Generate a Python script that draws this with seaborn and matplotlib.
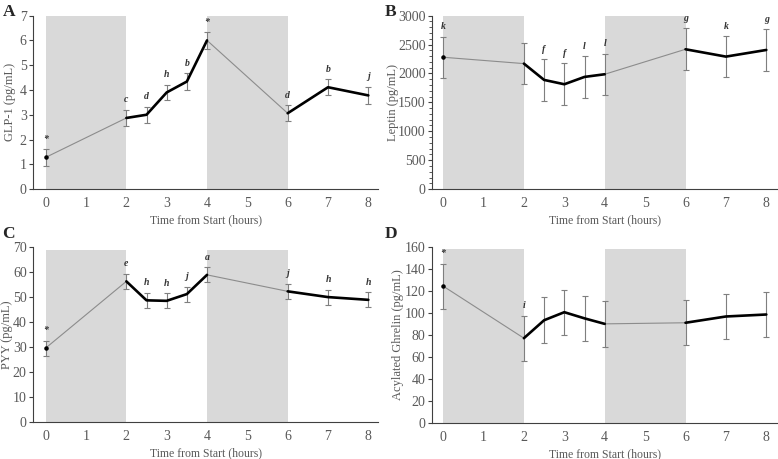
import matplotlib
matplotlib.use("Agg")
import matplotlib.pyplot as plt
import seaborn as sns
import pandas as pd
import numpy as np
from matplotlib.ticker import MultipleLocator

sns.set_theme(style="white")
plt.rcParams['font.family'] = ['Liberation Serif', 'DejaVu Serif']

# ---- data ----
hours = [0, 2, 2.5, 3, 3.5, 4, 6, 7, 8]

glp1 = [1.28, 2.87, 3.0, 3.9, 4.34, 6.0, 3.06, 4.11, 3.78]
glp1_err = [0.33, 0.33, 0.32, 0.3, 0.33, 0.33, 0.33, 0.32, 0.34]
glp1_lab = ['*', 'c', 'd', 'h', 'b', '*', 'd', 'b', 'j']

leptin = [2280, 2170, 1888, 1813, 1940, 1986, 2418, 2291, 2406]
leptin_err = [355, 360, 360, 360, 360, 355, 360, 355, 360]
leptin_lab = ['k', '', 'f', 'f', 'l', 'l', 'g', 'k', 'g']

pyy = [29.6, 56.3, 48.7, 48.5, 51.2, 58.9, 52.3, 50.0, 48.9]
pyy_err = [3.0, 3.0, 3.0, 3.0, 3.0, 3.0, 3.0, 3.0, 3.0]
pyy_lab = ['*', 'e', 'h', 'h', 'j', 'a', 'j', 'h', 'h']

ghrelin = [124.3, 77.0, 93.3, 100.6, 95.0, 90.0, 91.0, 96.7, 98.5]
ghrelin_err = [20.5, 20.3, 20.7, 20.4, 20.3, 20.7, 20.5, 20.5, 20.6]
ghrelin_lab = ['*', 'i', '', '', '', '', '', '', '']

ylabels = ['GLP-1 (pg/mL)', 'Leptin (pg/mL)', 'PYY (pg/mL)', 'Acylated Ghrelin (pg/mL)']
ylims = [7, 3000, 70, 160]
ysteps = [1, 500, 10, 20]
shade_tops = [7, 2990, 69, 158]
letters = ['A', 'B', 'C', 'D']
xticks = list(range(0, 9))

series = [(glp1, glp1_err, glp1_lab), (leptin, leptin_err, leptin_lab),
          (pyy, pyy_err, pyy_lab), (ghrelin, ghrelin_err, ghrelin_lab)]

thin_segs = [(0, 1), (5, 6)]
thick_segs = [(1, 5), (6, 8)]

GRAY_TXT = '#595959'
AX_COL = '#404040'

W, H = 778, 459
fig = plt.figure(figsize=(7.78, 4.59), dpi=100)
positions = [
    [0.0424, 0.588, 0.444, 0.378, -0.315, 8.25],
    [0.555, 0.588, 0.444, 0.378, -0.28, 8.27],
    [0.0424, 0.0806, 0.444, 0.381, -0.315, 8.25],
    [0.555, 0.0784, 0.444, 0.384, -0.28, 8.27],
]
# right edge (in pixels) of each rotated y-label
ylabel_px = [16, 399, 13, 404]

for i, (vals, errs, labs) in enumerate(series):
    l, b, w, h, x0, x1 = positions[i]
    ax = fig.add_axes([l, b, w, h])
    df = pd.DataFrame({'hour': hours, 'value': vals, 'err': errs})
    # shaded periods
    ax.fill_between([0, 2], 0, shade_tops[i], color='#d9d9d9', lw=0, zorder=0)
    ax.fill_between([4, 6], 0, shade_tops[i], color='#d9d9d9', lw=0, zorder=0)
    # error bars
    ax.errorbar(df['hour'], df['value'], yerr=df['err'], fmt='none',
                ecolor='#7f7f7f', elinewidth=0.8, capsize=2.5, capthick=0.8, zorder=2)
    for (s, e) in thin_segs:
        sns.lineplot(data=df.iloc[s:e + 1], x='hour', y='value', ax=ax,
                     color='#8c8c8c', lw=0.8, zorder=3, estimator=None, sort=False)
    for (s, e) in thick_segs:
        sns.lineplot(data=df.iloc[s:e + 1], x='hour', y='value', ax=ax,
                     color='black', lw=1.9, zorder=4, estimator=None, sort=False)
    ax.scatter([hours[0]], [vals[0]], s=5, color='black', zorder=5)
    # significance letters
    for xh, v, er, lab in zip(hours, vals, errs, labs):
        if lab:
            ax.annotate(lab, (xh, v + er), xytext=(0, 4), textcoords='offset points',
                        ha='center', va='bottom', fontsize=7, fontweight='bold',
                        fontstyle='italic', color='#333333')
    ax.set_xlim(x0, x1)
    ax.set_ylim(0, ylims[i])
    ax.set_xticks(xticks)
    ax.set_xticklabels([str(t) for t in xticks])
    ax.yaxis.set_major_locator(MultipleLocator(ysteps[i]))
    if i == 1:
        ax.yaxis.set_minor_locator(MultipleLocator(100))
        ax.tick_params(axis='y', which='minor', length=2.2, width=0.6, color=AX_COL, direction='out', left=True)
    ax.tick_params(axis='y', which='major', length=3, width=0.8, color=AX_COL, direction='out', left=True,
                   labelsize=10, labelcolor=GRAY_TXT, pad=1.5)
    ax.tick_params(axis='x', length=0, labelsize=10, labelcolor=GRAY_TXT, pad=6)
    ax.set_xlabel('Time from Start (hours)', fontsize=8.5, color=GRAY_TXT, labelpad=3)
    ax.set_ylabel(ylabels[i], fontsize=9, color=GRAY_TXT)
    ax.yaxis.set_label_coords((ylabel_px[i] - l * W) / (w * W), 0.5)
    for sp in ['top', 'right']:
        ax.spines[sp].set_visible(False)
    for sp in ['left', 'bottom']:
        ax.spines[sp].set_color(AX_COL)
        ax.spines[sp].set_linewidth(0.8)
    ax.grid(False)
    ax.set_facecolor('white')

# panel letters
fig.text(0.003, 0.992, 'A', fontsize=12.5, fontweight='bold', va='top', ha='left')
fig.text(0.494, 0.992, 'B', fontsize=12.5, fontweight='bold', va='top', ha='left')
fig.text(0.003, 0.508, 'C', fontsize=12.5, fontweight='bold', va='top', ha='left')
fig.text(0.494, 0.508, 'D', fontsize=12.5, fontweight='bold', va='top', ha='left')

fig.savefig('out.png', dpi=100)
